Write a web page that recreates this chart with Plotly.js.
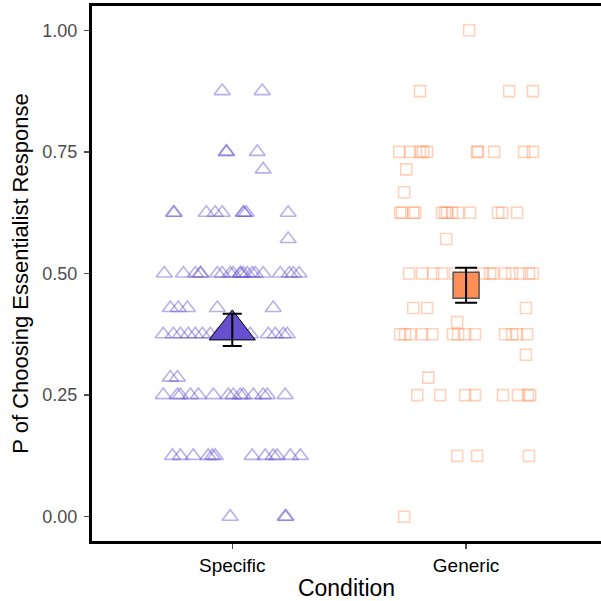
<!DOCTYPE html>
<html>
<head>
<meta charset="utf-8">
<script src="https://cdn.plot.ly/plotly-3.0.1.min.js"></script>
<style>html,body{margin:0;padding:0;background:#fff;overflow:hidden;}</style>
</head>
<body>
<div id="chart" style="width:601px;height:601px;"></div>
<script>
// Categories
const categories = ["Specific", "Generic"];

// Specific condition: per-participant proportions and horizontal jitter (data units)
const specificValues = [
  0.875, 0.875,
  0.75, 0.75, 0.75,
  0.714,
  0.625, 0.625, 0.625, 0.625, 0.625, 0.625, 0.625, 0.625, 0.625,
  0.571,
  0.5, 0.5, 0.5, 0.5, 0.5, 0.5, 0.5, 0.5, 0.5, 0.5, 0.5, 0.5, 0.5, 0.5, 0.5, 0.5, 0.5, 0.5, 0.5, 0.5,
  0.429, 0.429, 0.429, 0.429, 0.429,
  0.375, 0.375, 0.375, 0.375, 0.375, 0.375, 0.375, 0.375, 0.375, 0.375, 0.375, 0.375, 0.375, 0.375,
  0.286, 0.286,
  0.25, 0.25, 0.25, 0.25, 0.25, 0.25, 0.25, 0.25, 0.25, 0.25, 0.25, 0.25, 0.25, 0.25,
  0.125, 0.125, 0.125, 0.125, 0.125, 0.125, 0.125, 0.125, 0.125, 0.125, 0.125, 0.125,
  0, 0, 0
];
const specificJitter = [
  -0.043, 0.128,
  -0.026, -0.024, 0.107,
  0.132,
  -0.252, -0.248, -0.111, -0.073, -0.043, 0.047, 0.050, 0.060, 0.239,
  0.239,
  -0.291, -0.209, -0.158, -0.137, -0.135, -0.064, -0.043, -0.009, 0.004, 0.034, 0.036, 0.047, 0.064, 0.085, 0.098, 0.132, 0.205, 0.244, 0.261, 0.286,
  -0.265, -0.231, -0.192, -0.064, 0.175,
  -0.295, -0.252, -0.222, -0.188, -0.158, -0.128, -0.094, -0.060, -0.030, 0.077, 0.154, 0.184, 0.218, 0.235,
  -0.265, -0.235,
  -0.295, -0.235, -0.222, -0.179, -0.145, -0.081, -0.017, 0.004, 0.034, 0.047, 0.090, 0.132, 0.150, 0.226,
  -0.256, -0.222, -0.167, -0.103, -0.085, -0.073, 0.085, 0.141, 0.175, 0.192, 0.248, 0.291,
  -0.009, 0.226, 0.230
];

// Generic condition
const genericValues = [
  1.0,
  0.875, 0.875, 0.875,
  0.75, 0.75, 0.75, 0.75, 0.75, 0.75, 0.75, 0.75, 0.75, 0.75,
  0.714,
  0.667,
  0.625, 0.625, 0.625, 0.625, 0.625, 0.625, 0.625, 0.625, 0.625, 0.625, 0.625, 0.625, 0.625,
  0.571,
  0.5, 0.5, 0.5, 0.5, 0.5, 0.5, 0.5, 0.5, 0.5, 0.5, 0.5, 0.5, 0.5, 0.5,
  0.429, 0.429, 0.429,
  0.4,
  0.375, 0.375, 0.375, 0.375, 0.375, 0.375, 0.375, 0.375, 0.375, 0.375, 0.375, 0.375, 0.375,
  0.333,
  0.286,
  0.25, 0.25, 0.25, 0.25, 0.25, 0.25, 0.25, 0.25,
  0.125, 0.125, 0.125,
  0
];
const genericJitter = [
  0.013,
  -0.197, 0.184, 0.286,
  -0.286, -0.239, -0.197, -0.184, -0.167, 0.047, 0.051, 0.120, 0.248, 0.286,
  -0.256,
  -0.265,
  -0.282, -0.274, -0.226, -0.218, -0.103, -0.090, -0.081, -0.060, -0.034, 0.017, 0.137, 0.154, 0.218,
  -0.085,
  -0.244, -0.188, -0.141, -0.103, -0.047, 0.017, 0.073, 0.103, 0.115, 0.167, 0.197, 0.231, 0.269, 0.286,
  -0.226, -0.167, 0.256,
  -0.038,
  -0.282, -0.261, -0.239, -0.188, -0.145, -0.056, -0.034, -0.004, 0.038, 0.167, 0.197, 0.218, 0.261,
  0.256,
  -0.162,
  -0.209, -0.111, -0.004, 0.038, 0.158, 0.222, 0.265, 0.274,
  -0.038, 0.047, 0.269,
  -0.265
];

// Condition means and standard errors
const conditionMeans = [0.384, 0.476];
const conditionSE = [0.033, 0.036];

// Tick labels
const yTickVals = [0, 0.25, 0.5, 0.75, 1];
const yTickText = ["0.00", "0.25", "0.50", "0.75", "1.00"];

const purple = "#6650CF";
const orange = "#FF8F57";

const specX = specificJitter.map(j => 1 + j);
const genX = genericJitter.map(j => 2 + j);

const traces = [
  {
    x: specX, y: specificValues, type: "scatter", mode: "markers",
    marker: {symbol: "triangle-up-open", size: 14, color: purple, opacity: 0.45, line: {width: 1.6, color: purple}},
    hoverinfo: "skip"
  },
  {
    x: genX, y: genericValues, type: "scatter", mode: "markers",
    marker: {symbol: "square-open", size: 11, color: orange, opacity: 0.4, line: {width: 1.6, color: orange}},
    hoverinfo: "skip"
  },
  {
    x: [1], y: [conditionMeans[0]], type: "scatter", mode: "markers",
    marker: {symbol: "triangle-up", size: 40, color: purple, line: {width: 1, color: "#000"}}
  },
  {
    x: [2], y: [conditionMeans[1]], type: "scatter", mode: "markers",
    marker: {symbol: "square", size: 26, color: orange, line: {width: 1.5, color: "#555"}}
  },
  {
    x: [1], y: [conditionMeans[0]], type: "scatter", mode: "markers",
    marker: {size: 1, opacity: 0},
    error_y: {type: "data", array: [conditionSE[0]], visible: true, color: "#000", thickness: 2, width: 9.5}
  },
  {
    x: [2], y: [conditionMeans[1]], type: "scatter", mode: "markers",
    marker: {size: 1, opacity: 0},
    error_y: {type: "data", array: [conditionSE[1]], visible: true, color: "#000", thickness: 2, width: 11}
  }
];

const font = "Liberation Sans, Arial, Helvetica, sans-serif";

const layout = {
  width: 601, height: 601,
  margin: {l: 92, r: 0, t: 6, b: 60},
  paper_bgcolor: "#fff", plot_bgcolor: "#fff",
  showlegend: false,
  font: {family: font},
  xaxis: {
    range: [0.4, 2.577],
    tickvals: [1, 2], ticktext: categories,
    showgrid: false, zeroline: false,
    showline: true, linecolor: "#000", linewidth: 3, mirror: true,
    ticks: "outside", ticklen: 5, tickwidth: 1.5, tickcolor: "#4D4D4D",
    tickfont: {family: font, size: 19, color: "#000"},
    title: {text: "Condition", font: {family: font, size: 23, color: "#000"}, standoff: 6}
  },
  yaxis: {
    range: [-0.05, 1.05],
    tickvals: yTickVals, ticktext: yTickText,
    showgrid: false, zeroline: false,
    showline: true, linecolor: "#000", linewidth: 3, mirror: false,
    ticks: "outside", ticklen: 5, tickwidth: 1.5, tickcolor: "#4D4D4D",
    ticklabelstandoff: 3,
    tickfont: {family: font, size: 18, color: "#4D4D4D"},
    title: {text: "P of Choosing Essentialist Response", font: {family: font, size: 22, color: "#000"}, standoff: 8}
  }
};

Plotly.newPlot("chart", traces, layout, {displayModeBar: false, staticPlot: true});
</script>
</body>
</html>
